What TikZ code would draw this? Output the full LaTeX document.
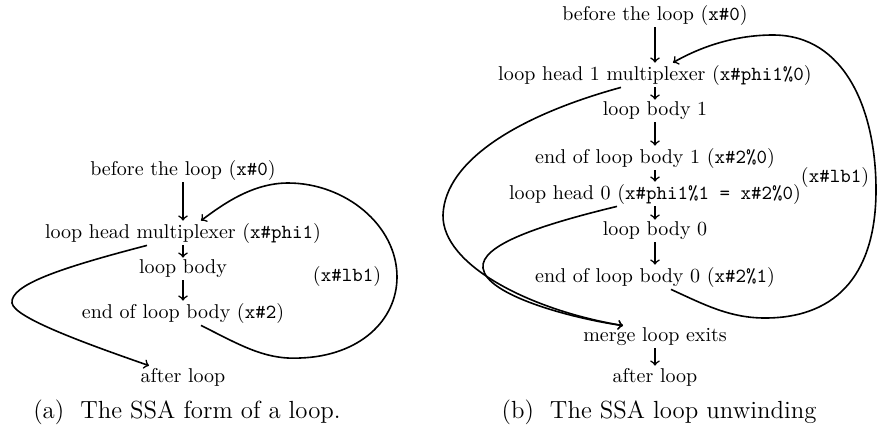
\documentclass[tikz,border=0pt]{standalone}
\usepackage{tikz}
\usetikzlibrary{calc}

\begin{document}
\begin{tikzpicture}[x=0.5pt,y=-0.5pt]
                \tikzset{flow/.style={thick,->},
                        step box/.style={inner sep=1pt},
                        caption/.style={font=\fontsize{12.4}{14}\selectfont}}
                \useasboundingbox (0,0) rectangle (878,435);

                % (a) the SSA form of a loop
                \node[step box] (abefore) at (183,170) {before the loop (\texttt{x\#0})};
                \node[step box] (ahead) at (183,233) {loop head multiplexer (\texttt{x\#phi1})};
                \node[step box] (abody) at (183,269) {loop body};
                \node[step box] (aend) at (183,313) {end of loop body (\texttt{x\#2})};
                \node[step box] (aafter) at (183,377) {after loop};
                \node (alb) at (347,276) {(\texttt{x\#lb1})};
                \node[caption] (acap) at (187,412) {(a)\hspace{8pt}The SSA form of a loop.};

                \draw[flow] (abefore) -- (ahead);
                \draw[flow] (ahead) -- (abody);
                \draw[flow] (abody) -- (aend);
                \draw[flow] ([xshift=-18pt]ahead.south) .. controls (60,268) and (10,285) .. (12,303)
                        .. controls (14,318) and (90,345) .. ([xshift=-17pt]aafter.north);
                \draw[flow] ([xshift=9pt]aend.south) .. controls (240,345) and (265,360) .. (300,358)
                        .. controls (360,356) and (397,320) .. (397,277)
                        .. controls (397,225) and (345,183) .. (288,183)
                        .. controls (252,183) and (222,205) .. ([xshift=9pt]ahead.north);

                % (b) the SSA loop unwinding
                \node[step box] (bbefore) at (655,15) {before the loop (\texttt{x\#0})};
                \node[step box] (bhead1) at (655,75) {loop head 1 multiplexer (\texttt{x\#phi1\%0})};
                \node[step box] (bbody1) at (655,111) {loop body 1};
                \node[step box] (bend1) at (655,158) {end of loop body 1 (\texttt{x\#2\%0})};
                \node[step box] (bhead0) at (655,194) {loop head 0 (\texttt{x\#phi1\%1 = x\#2\%0})};
                \node[step box] (bbody0) at (655,231) {loop body 0};
                \node[step box] (bend0) at (655,277) {end of loop body 0 (\texttt{x\#2\%1})};
                \node[step box] (bmerge) at (655,337) {merge loop exits};
                \node[step box] (bafter) at (655,377) {after loop};
                \node (blb) at (835,177) {(\texttt{x\#lb1})};
                \node[caption] (bcap) at (659,412) {(b)\hspace{8pt}The SSA loop unwinding};

                \draw[flow] (bbefore) -- (bhead1);
                \draw[flow] (bhead1) -- (bbody1);
                \draw[flow] (bbody1) -- (bend1);
                \draw[flow] (bend1) -- (bhead0);
                \draw[flow] (bhead0) -- (bbody0);
                \draw[flow] (bbody0) -- (bend0);
                \draw[flow] (bmerge) -- (bafter);
                \draw[flow] ([xshift=-17pt]bhead1.south) .. controls (520,115) and (445,160) .. (443,215)
                        .. controls (442,265) and (530,310) .. ([xshift=-16pt]bmerge.north);
                \draw[flow] ([xshift=-19pt]bhead0.south) .. controls (540,225) and (480,245) .. (483,268)
                        .. controls (486,295) and (570,318) .. ([xshift=-16pt]bmerge.north);
                \draw[flow] ([xshift=8pt]bend0.south) .. controls (705,305) and (730,318) .. (765,318)
                        .. controls (840,318) and (876,270) .. (876,190)
                        .. controls (876,110) and (845,35) .. (773,35)
                        .. controls (730,35) and (695,50) .. ([xshift=9pt]bhead1.north);
            \end{tikzpicture}
\end{document}
